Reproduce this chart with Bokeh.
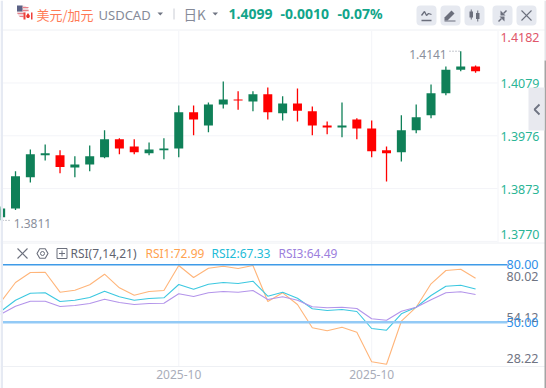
from bokeh.plotting import figure
from bokeh.models import Range1d
from bokeh.core.properties import value
from bokeh.embed import file_html
from bokeh.resources import INLINE

open_ = [1.3817,1.3834,1.3895,1.3938,1.3938,1.3914,1.3920,1.3934,1.3969,1.3955,1.3942,1.3948,1.3951,1.4022,1.3996,1.4037,1.4047,1.4043,1.4057,1.4020,1.4039,1.4024,1.3996,1.3992,1.4008,1.3990,1.3948,1.3944,1.3987,1.4016,1.4059,1.4105,1.4111]
high  = [1.3838,1.3907,1.3949,1.3959,1.3948,1.3936,1.3957,1.3987,1.3971,1.3969,1.3963,1.3971,1.4035,1.4035,1.4041,1.4082,1.4063,1.4063,1.4070,1.4053,1.4068,1.4033,1.4004,1.4041,1.4010,1.4006,1.3955,1.4016,1.4037,1.4076,1.4111,1.4141,1.4113]
low   = [1.3811,1.3831,1.3885,1.3928,1.3903,1.3895,1.3907,1.3932,1.3940,1.3940,1.3938,1.3930,1.3934,1.3977,1.3983,1.4029,1.4027,1.4024,1.4008,1.4006,1.4004,1.3977,1.3979,1.3973,1.3969,1.3934,1.3887,1.3926,1.3981,1.4010,1.4055,1.4102,1.4099]
close = [1.3834,1.3897,1.3940,1.3942,1.3915,1.3920,1.3936,1.3969,1.3951,1.3944,1.3949,1.3951,1.4022,1.4008,1.4037,1.4047,1.4045,1.4057,1.4022,1.4039,1.4025,1.3996,1.3992,1.3996,1.3990,1.3946,1.3942,1.3987,1.4012,1.4059,1.4105,1.4111,1.4102]
rsi1 = [60.45,70.75,75.97,76.13,65.68,66.72,69.55,75.09,67.98,64.11,66.04,66.57,79.63,73.36,78.22,79.27,78.07,79.63,60.82,65.36,59.25,47.07,45.50,47.38,44.77,29.29,28.04,50.52,57.84,70.07,77.02,77.70,72.99]
rsi2 = [55.59,61.50,65.15,65.36,60.82,61.50,62.91,66.20,63.27,61.50,62.38,62.75,69.70,67.25,69.86,70.75,70.22,71.43,63.59,65.68,62.54,57.00,56.11,56.63,55.59,46.70,45.81,54.39,57.84,63.95,68.81,69.34,67.33]
rsi3 = [54.18,58.36,60.97,60.97,58.20,58.72,59.77,62.02,60.29,59.25,59.77,59.93,64.84,63.43,65.36,66.04,65.68,66.57,61.86,63.27,61.50,58.05,57.52,57.84,57.16,51.77,51.04,55.75,57.84,61.70,65.36,65.89,64.49]
price_ticks = [1.4182,1.4079,1.3976,1.3873,1.3770]
rsi_ticks = [80.02,54.12,28.22]
rsi_levels = [80.0,50.0]
date_idx = [12,25]
date_labels = ["2025-10","2025-10"]

GREEN, RED = "#0f8058", "#ff0000"
TICK_G, TICK_R = "#2bb596", "#e0566a"
F = "Noto Sans"
idx = list(range(len(open_)))

p = figure(width=546, height=388, output_backend="svg", toolbar_location=None,
           x_range=Range1d(-0.011, 36.78), y_range=Range1d(1.34830, 1.42399),
           min_border=0, min_border_left=0, min_border_right=0, min_border_top=0, min_border_bottom=0,
           outline_line_color=None, background_fill_color="white", border_fill_color="white")
p.xaxis.visible = False
p.yaxis.visible = False
p.xgrid.visible = False
p.ygrid.visible = False
p.extra_x_ranges = {"px": Range1d(0, 546)}
p.extra_y_ranges = {"py": Range1d(388, 0), "rsi": Range1d(15.34, 218.16)}
PX = dict(x_range_name="px", y_range_name="py")

def txt(x, y, s, color, size=12, align="left", base="middle", bold=False, font=F, **kw):
    p.text([x], [y], text=[s], text_color=color, text_font_size=f"{size}px", text_align=align,
           text_baseline=base, text_font=value(font), text_font_style="bold" if bold else "normal", **{**PX, **kw})

def ln(xs, ys, color, w=1.0):
    p.line(xs, ys, line_color=color, line_width=w, **PX)

# grid
GRIDC = "#f3f4f8"
p.segment([0]*len(price_ticks), price_ticks, [497]*len(price_ticks), price_ticks, line_color=GRIDC, line_width=1, x_range_name="px")
p.segment(date_idx, [30]*2, date_idx, [366]*2, line_color=GRIDC, line_width=1, y_range_name="py")
ln([497.5, 497.5], [30, 242], GRIDC)
ln([0, 546], [242.5, 242.5], "#eef0f4")
ln([0, 546], [366, 366], "#eef0f4")
ln([0, 546], [29.5, 29.5], "#f6f7f9", 1.5)

# candles
colors = [GREEN if c >= o else RED for o, c in zip(open_, close)]
p.segment(idx, high, idx, low, line_color=colors, line_width=1.3)
p.vbar(idx, top=[max(a, b) for a, b in zip(open_, close)], bottom=[min(a, b) for a, b in zip(open_, close)],
       width=0.606, fill_color=colors, line_color=None)

# hi/lo marks
p.segment([449], [high[31]], [460], [high[31]], line_color="#8a8f9c", line_width=1, line_dash="1 2", x_range_name="px")
txt(31, high[31], "1.4141", "#8a8f9c", 12, align="right", y_offset=3, x_offset=-14, x_range_name="default", y_range_name="default")
p.segment([2], [low[0]], [11], [low[0]], line_color="#8a8f9c", line_width=1, line_dash="1 2", x_range_name="px")
txt(0, low[0], "1.3811", "#8a8f9c", 12, align="left", y_offset=3, x_offset=13, x_range_name="default", y_range_name="default")

# RSI
for vals, c in ((rsi1, "#ffb57a"), (rsi2, "#3cc8e0"), (rsi3, "#b394ea")):
    p.line(idx, vals, line_color=c, line_width=1.1, y_range_name="rsi")
p.segment([2], [rsi_levels[0]], [507], [rsi_levels[0]], line_color="#3f9be8", line_width=1.5, x_range_name="px", y_range_name="rsi")
p.segment([2], [rsi_levels[1]], [507], [rsi_levels[1]], line_color="#93caf6", line_width=2.5, x_range_name="px", y_range_name="rsi")

# right labels
for i, t in enumerate(price_ticks):
    base = "top" if i == 0 else ("bottom" if i == len(price_ticks) - 1 else "middle")
    off = {0: 2.5, len(price_ticks) - 1: -2.5}.get(i, 1)
    p.text([539], [t], text=[f"{t:.4f}"], text_color=TICK_R if i == 0 else TICK_G, text_font_size="12.5px",
           text_align="right", text_baseline=base, text_font=value(F), y_offset=off, x_range_name="px")
for i, (t, off) in enumerate(zip(rsi_ticks, (12, 3, -5))):
    p.text([538], [t], text=[f"{t:.2f}"], text_color="#6f7482", text_font_size="12.5px", text_align="right",
           text_baseline="middle", text_font=value(F), y_offset=off, x_range_name="px", y_range_name="rsi")
for t in rsi_levels:
    p.text([538], [t], text=[f"{t:.2f}"], text_color="#2f8fe8", text_font_size="12.5px", text_align="right",
           text_baseline="middle", text_font=value(F), x_range_name="px", y_range_name="rsi")

# date labels
p.text(date_idx, [374]*2, text=date_labels, text_color="#a9adb9", text_font_size="12px", text_align="center",
       text_baseline="middle", text_font=value(F), y_range_name="py")

# page edges and side tab
p.quad(left=[0], right=[2.5], top=[0], bottom=[388], fill_color="#e6eaf3", line_color=None, **PX)
p.quad(left=[544], right=[546], top=[0], bottom=[60], fill_color="#e4e4e8", line_color=None, **PX)
p.quad(left=[544], right=[546], top=[60], bottom=[388], fill_color="#a4a4a4", line_color=None, **PX)
p.quad(left=[528], right=[544], top=[87], bottom=[130], fill_color="#e8e9ef", line_color=None, **PX)
ln([539, 534, 539], [104, 109, 114], "#6f7482", 1.8)

# header
txt(36, 13.5, "美元/加元", "#ff7a55", 13, font="Noto Sans CJK SC")
txt(98, 14, "USDCAD", "#858a98", 13)
p.patch([157, 162.5, 159.75], [12, 12, 15], fill_color="#6f7482", line_color=None, **PX)
ln([173.5, 173.5], [8, 19], "#c9ccd4")
txt(183, 13, "日K", "#858a98", 13.5, font="Noto Sans CJK SC")
p.patch([212, 217.5, 214.75], [12, 12, 15], fill_color="#6f7482", line_color=None, **PX)
txt(228, 13, "1.4099", "#12a58a", 14, bold=True)
txt(280, 13, "-0.0010", "#12a58a", 14, bold=True)
txt(337, 13, "-0.07%", "#12a58a", 14, bold=True)

# flag
p.circle([22.5], [11], radius=6, fill_color="#f0d8dc", line_color=None, **PX)
p.quad(left=[16.5], right=[22], top=[5], bottom=[11], fill_color="#5b6285", line_color=None, **PX)
for yy, xa in ((7, 22), (10, 22), (13, 17), (16, 19)):
    ln([xa, 28], [yy, yy], "#e8808a", 1)
p.circle([27.5], [15.5], radius=4.4, fill_color="white", line_color=None, **PX)
p.quad(left=[23], right=[25], top=[12], bottom=[19], fill_color="#f0403a", line_color=None, **PX)
p.quad(left=[30.5], right=[32], top=[12], bottom=[19], fill_color="#f0403a", line_color=None, **PX)
p.patch([27.5, 29.5, 28.5, 26.5, 25.5], [12.5, 15.5, 17.5, 17.5, 15.5], fill_color="#e8352e", line_color=None, **PX)

# buttons
p.quad(left=[416, 440, 464, 492, 516], right=[436, 460, 484, 512, 536], top=[5]*5, bottom=[25]*5,
       fill_color="#e6e9f0", line_color=None, border_radius=4, **PX)
IC = "#6b6f7c"
ln([421, 431], [20, 20], IC, 1.5)
ln([421, 424, 426, 428, 431], [15, 11, 15, 13, 14], IC, 1.3)
p.patch([444, 451, 454, 447, 444], [17, 10, 13, 20, 20], fill_color=IC, line_color=None, **PX)
ln([444, 455], [20.5, 20.5], IC, 1.2)
p.quad(left=[469, 475.5], right=[472.5, 479], top=[11, 12.5], bottom=[17, 18.5], fill_color=IC, line_color=None, **PX)
ln([470.75, 470.75], [9, 19], IC, 1)
ln([477.25, 477.25], [10, 21], IC, 1)
ln([498, 501], [21, 18], IC, 1.5)
p.patch([499, 504, 504], [16, 16, 21], fill_color=IC, line_color=None, **PX)
ln([506, 503], [10, 13], IC, 1.5)
p.patch([505, 500, 500], [15, 15, 10], fill_color=IC, line_color=None, **PX)
ln([521, 531], [10, 20], IC, 1.1)
ln([531, 521], [10, 20], IC, 1.1)

# RSI toolbar
ln([17, 27], [248, 258], IC, 1.1)
ln([27, 17], [248, 258], IC, 1.1)
p.scatter([42], [253], size=11, marker="hex", fill_color=None, line_color=IC, line_width=1.1, **PX)
p.circle([42], [253], radius=2, fill_color=None, line_color=IC, line_width=1, **PX)
p.quad(left=[56.5], right=[66.5], top=[248], bottom=[258], fill_color=None, line_color=IC, line_width=1, **PX)
ln([58.5, 64.5], [253, 253], IC, 1)
ln([61.5, 61.5], [250, 256], IC, 1)
txt(70, 253, "RSI(7,14,21)", "#5f6470", 12)
txt(145, 253, "RSI1:72.99", "#ffa24f", 12)
txt(211, 253, "RSI2:67.33", "#22bcd8", 12)
txt(278, 253, "RSI3:64.49", "#9c80dd", 12)

open("out.html", "w").write(file_html(p, INLINE))
